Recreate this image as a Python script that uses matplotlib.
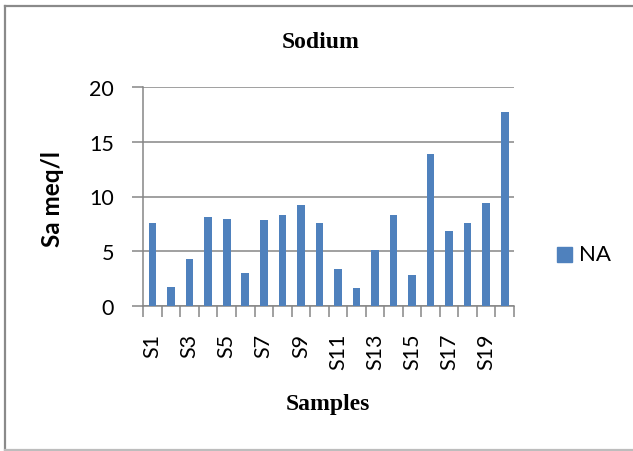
import numpy as np
import matplotlib.pyplot as plt
from matplotlib.lines import Line2D

samples = [f"S{i}" for i in range(1, 21)]
sodium = [7.56, 1.79, 4.31, 8.13, 7.95, 3.03, 7.86, 8.29, 9.23, 7.56,
          3.43, 1.70, 5.13, 8.29, 2.82, 13.84, 6.86, 7.56, 9.44, 17.72]
yticks = [0, 5, 10, 15, 20]

bar_color = "#4F81BD"
grid_color = "#868686"
W, H = 633, 452

fig = plt.figure(figsize=(W / 100, H / 100), dpi=100)
ax = fig.add_axes([143.3 / W, 1 - 307.3 / H, (514 - 143.3) / W, (307.3 - 87.7) / H])

x = np.arange(1, len(samples) + 1)
ax.bar(x, sodium, width=0.41, color=bar_color, zorder=3, label="NA")

ax.set_xlim(0.5, len(samples) + 0.5)
ax.set_ylim(0, 20)

# y axis: grey ticks outside, gridlines at each major tick
ax.set_yticks(yticks)
ax.set_yticklabels([str(v) for v in yticks], fontfamily="Lato", fontsize=15.5)
ax.yaxis.grid(True, color=grid_color, linewidth=1.1, zorder=0)
ax.tick_params(axis="y", length=8, width=1.1, color=grid_color, pad=13)

# x axis: labels on every other bar, tick marks on category boundaries
ax.set_xticks(x[::2])
ax.set_xticklabels(samples[::2], rotation=90, fontfamily="Lato", fontsize=15.5,
                   va="top", ha="center")
ax.set_xticks(np.arange(0.5, len(samples) + 1), minor=True)
ax.tick_params(axis="x", which="major", length=0, pad=19)
ax.tick_params(axis="x", which="minor", length=8, width=1.1, color=grid_color)

for side in ["top", "right"]:
    ax.spines[side].set_visible(False)
for side in ["left", "bottom"]:
    ax.spines[side].set_color(grid_color)
    ax.spines[side].set_linewidth(1.1)

fig.text(321 / W, 1 - 42 / H, "Sodium", fontfamily="Liberation Serif",
         fontweight="bold", fontsize=17, ha="center", va="center")
fig.text(328 / W, 1 - 405 / H, "Samples", fontfamily="Liberation Serif",
         fontweight="bold", fontsize=17, ha="center", va="center")
fig.text(53 / W, 1 - 199 / H, "Sa meq/l", fontfamily="Lato",
         fontweight="bold", fontsize=17.5, rotation=90, ha="center", va="center")

# legend: single square marker with series name
fig.patches.append(plt.Rectangle((556.7 / W, 1 - 262.7 / H), 15.5 / W, 15 / H,
                                 transform=fig.transFigure, color=bar_color))
fig.text(579 / W, 1 - 255.5 / H, "NA", fontfamily="Lato", fontsize=16,
         ha="left", va="center")

# outer chart frame
fig.add_artist(Line2D([5 / W, 5 / W], [1 - 6.5 / H, 1 - 450.7 / H],
                      transform=fig.transFigure, color="#8a8a8a", linewidth=1.6))
fig.add_artist(Line2D([5 / W, 1.0], [1 - 6.5 / H, 1 - 6.5 / H],
                      transform=fig.transFigure, color="#8a8a8a", linewidth=1.6))
fig.add_artist(Line2D([5 / W, 1.0], [1 - 450.7 / H, 1 - 450.7 / H],
                      transform=fig.transFigure, color="#bdbdbd", linewidth=1.6))

fig.savefig("out.png", dpi=100)
